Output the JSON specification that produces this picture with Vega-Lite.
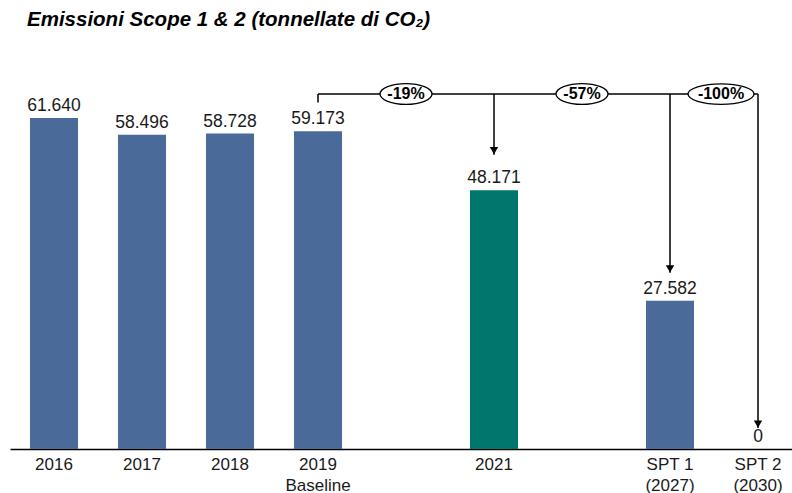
{
  "$schema": "https://vega.github.io/schema/vega-lite/v6.json",
  "width": 782,
  "height": 376,
  "autosize": "none",
  "padding": {"left": 10, "top": 73, "right": 0, "bottom": 44},
  "background": "white",
  "config": {
    "view": {"stroke": null},
    "locale": {"number": {"decimal": ",", "thousands": ".", "grouping": [3], "currency": ["", " €"]}},
    "font": "Liberation Sans"
  },
  "title": {
    "text": "Emissioni Scope 1 & 2 (tonnellate di CO₂)",
    "anchor": "start",
    "frame": "group",
    "font": "Liberation Sans",
    "fontSize": 20.5,
    "fontWeight": "bold",
    "fontStyle": "italic",
    "color": "#000000",
    "baseline": "alphabetic",
    "offset": 27,
    "dx": 17
  },
  "datasets": {
    "bars": [
      {"cat": "2016", "value": 61640, "tipo": "storico"},
      {"cat": "2017", "value": 58496, "tipo": "storico"},
      {"cat": "2018", "value": 58728, "tipo": "storico"},
      {"cat": "2019|Baseline", "value": 59173, "tipo": "storico"},
      {"cat": "2021", "value": 48171, "tipo": "attuale"},
      {"cat": "SPT 1|(2027)", "value": 27582, "tipo": "target"},
      {"cat": "SPT 2|(2030)", "value": 0, "tipo": "target"}
    ],
    "bracket": [
      {"from": "2019|Baseline", "to": "SPT 2|(2030)", "y": 66080}
    ],
    "verticals": [
      {"cat": "2019|Baseline", "y": 66080, "y2": 64490},
      {"cat": "2021", "y": 66080, "y2": 54800},
      {"cat": "SPT 1|(2027)", "y": 66080, "y2": 32800},
      {"cat": "SPT 2|(2030)", "y": 66080, "y2": 3900}
    ],
    "arrows": [
      {"cat": "2021", "y": 54800},
      {"cat": "SPT 1|(2027)", "y": 32800},
      {"cat": "SPT 2|(2030)", "y": 3900}
    ],
    "badges": [
      {"cat": "gap1", "y": 66080, "label": "-19%"},
      {"cat": "gap2", "y": 66080, "label": "-57%"}
    ],
    "badgeLast": [
      {"cat": "SPT 1|(2027)", "y": 66080, "label": "-100%"}
    ]
  },
  "encoding": {
    "x": {
      "field": "cat",
      "type": "nominal",
      "sort": null,
      "scale": {
        "domain": ["2016", "2017", "2018", "2019|Baseline", "gap1", "2021", "gap2", "SPT 1|(2027)", "SPT 2|(2030)"],
        "paddingInner": 0.4545,
        "paddingOuter": 0.1705,
        "align": 0.667
      },
      "axis": {
        "title": null,
        "labelAngle": 0,
        "ticks": false,
        "grid": false,
        "domain": true,
        "domainColor": "#000000",
        "domainWidth": 1.5,
        "labelFont": "Liberation Sans",
        "labelFontSize": 17,
        "labelColor": "#1a1a1a",
        "labelLineHeight": 21,
        "labelPadding": 7,
        "labelBaseline": "top",
        "labelExpr": "indexof(datum.value, 'gap') == 0 ? '' : split(datum.value, '|')"
      }
    }
  },
  "layer": [
    {
      "data": {"name": "bars"},
      "mark": {"type": "bar"},
      "encoding": {
        "y": {"field": "value", "type": "quantitative", "scale": {"domain": [0, 70000], "nice": false}, "axis": null},
        "color": {
          "field": "tipo",
          "type": "nominal",
          "scale": {"domain": ["storico", "attuale", "target"], "range": ["#4a6a9a", "#00776c", "#4a6a9a"]},
          "legend": null
        }
      }
    },
    {
      "data": {"name": "bars"},
      "mark": {"type": "text", "baseline": "alphabetic", "dy": -7, "fontSize": 17.5, "color": "#1a1a1a", "font": "Liberation Sans"},
      "encoding": {
        "y": {"field": "value", "type": "quantitative"},
        "text": {"field": "value", "type": "quantitative", "format": ",.0f"}
      }
    },
    {
      "data": {"name": "bracket"},
      "mark": {"type": "rule", "color": "#000000", "strokeWidth": 1.5},
      "encoding": {
        "x": {"field": "from", "type": "nominal"},
        "x2": {"field": "to"},
        "y": {"field": "y", "type": "quantitative"}
      }
    },
    {
      "data": {"name": "verticals"},
      "mark": {"type": "rule", "color": "#000000", "strokeWidth": 1.5},
      "encoding": {
        "y": {"field": "y", "type": "quantitative"},
        "y2": {"field": "y2"}
      }
    },
    {
      "data": {"name": "arrows"},
      "mark": {"type": "point", "shape": "triangle-down", "filled": true, "color": "#000000", "opacity": 1, "size": 70, "yOffset": -4},
      "encoding": {
        "y": {"field": "y", "type": "quantitative"}
      }
    },
    {
      "data": {"name": "badges"},
      "mark": {"type": "point", "shape": "M -1 0 A 1 0.4 0 1 0 1 0 A 1 0.4 0 1 0 -1 0 Z", "filled": true, "fill": "white", "stroke": "#000000", "strokeWidth": 1.3, "opacity": 1, "size": 2704},
      "encoding": {
        "y": {"field": "y", "type": "quantitative"}
      }
    },
    {
      "data": {"name": "badges"},
      "mark": {"type": "text", "fontSize": 16, "fontWeight": "bold", "color": "#000000", "baseline": "middle", "font": "Liberation Sans"},
      "encoding": {
        "y": {"field": "y", "type": "quantitative"},
        "text": {"field": "label"}
      }
    },
    {
      "data": {"name": "badgeLast"},
      "mark": {"type": "point", "shape": "M -1 0 A 1 0.31 0 1 0 1 0 A 1 0.31 0 1 0 -1 0 Z", "filled": true, "fill": "white", "stroke": "#000000", "strokeWidth": 1.3, "opacity": 1, "size": 4356, "xOffset": 51},
      "encoding": {
        "y": {"field": "y", "type": "quantitative"}
      }
    },
    {
      "data": {"name": "badgeLast"},
      "mark": {"type": "text", "fontSize": 16, "fontWeight": "bold", "color": "#000000", "baseline": "middle", "font": "Liberation Sans", "dx": 51},
      "encoding": {
        "y": {"field": "y", "type": "quantitative"},
        "text": {"field": "label"}
      }
    }
  ]
}
